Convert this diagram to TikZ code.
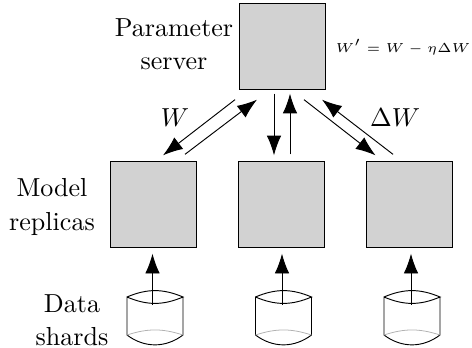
\documentclass[tikz,border=0pt]{standalone}
\usepackage{amsmath}
\usepackage{amssymb}
\usepackage{xcolor}
\usetikzlibrary{arrows.meta}
\definecolor{boxgray}{HTML}{D2D2D2}

\begin{document}
\begin{tikzpicture}[x=0.384pt,y=-0.384pt]
  \tikzset{box/.style = {shape=rectangle,draw,fill=boxgray,minimum size=32.8pt,inner sep=0pt,line width=0.36pt}}
  \tikzset{lbl/.style = {align=center,inner sep=0pt}}
  \tikzset{%
  tipA/.tip={Latex[length=7.6pt,width=5.6pt]},
  }
  \tikzset{edge/.style = {-tipA,line width=0.36pt}}
  \tikzset{shard/.pic = {
    \draw[line width=0.36pt] (-28,-21) to[bend left=23] (28,-21) to[bend left=23] (-28,-21) -- (-28,17)
      to[bend right=37] (28,17) -- (28,-21);
    \draw[gray!60,line width=0.3pt] (-28,17) to[bend left=18] (28,17);
    \coordinate (-top) at (0,-21);
  }}
  \useasboundingbox (0,0) rectangle (472,347);

	\node[box] (PS) at (282.5,46.5) {};
	\node[box] (R1) at (153.5,204.5) {};
	\node[box] (R2) at (281.5,204.5) {};
	\node[box] (R3) at (409.5,204.5) {};

	\pic (D1) at (155,318) {shard};
	\pic (D2) at (283.5,318) {shard};
	\pic (D3) at (412,318) {shard};

	\node[lbl] (PSL) at (174,44) {Parameter\\[0.7pt]server};
	\node[lbl] (RL) at (52,207) {Model\\[0.7pt]replicas};
	\node[lbl] (DL) at (72,320) {Data\\[0.7pt]shards};
	\node[lbl] (WL) at (175,118) {$W$};
	\node[lbl] (DWL) at (395,118) {$\Delta W$};
	\node[lbl] (UP) at (403,47) {\tiny $\displaystyle W' = W - \eta \Delta W$};

    \foreach \from/\fx/\fy/\to/\tx/\ty in {PS.south/-47.5/10/R1.north/9.5/-6,
                                           R1.north/31.5/-7/PS.south/-25.5/10,
                                           PS.south/-8.5/4/R2.north/-7.5/-6,
                                           R2.north/8.5/-7/PS.south/7.5/4,
                                           PS.south/21.5/10/R3.north/-34/-6,
                                           R3.north/-16.5/-7/PS.south/39.5/10,
                                           D1-top/-2.5/8/R1.south/-1/6,
                                           D2-top/-1.5/8/R2.south/0.5/6,
                                           D3-top/-1/8/R3.south/1.5/6}
    \draw[edge] ([shift={(\fx,\fy)}]\from) -- ([shift={(\tx,\ty)}]\to);

\end{tikzpicture}
\end{document}
